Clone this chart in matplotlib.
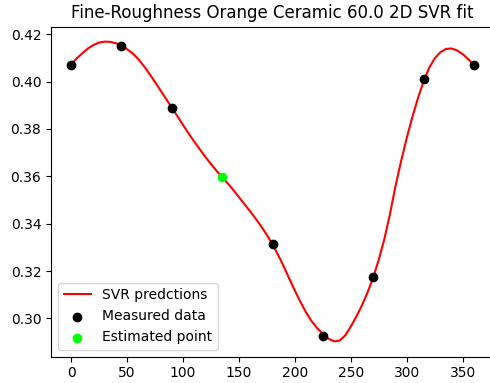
import matplotlib
matplotlib.use('Agg')
import matplotlib.pyplot as plt

# measured points (angle, value)
angles = [0, 45, 90, 180, 225, 270, 315, 360]
measured = [0.4072, 0.4151, 0.3890, 0.3313, 0.2927, 0.3175, 0.4010, 0.4070]

# estimated point
est_angle = [135]
est_value = [0.3597]

# SVR prediction curve, every 5 degrees
svr_x = list(range(0, 361, 5))
svr_y = [0.4072, 0.4098, 0.4120, 0.4140, 0.4155, 0.4165, 0.4169, 0.4168, 0.4162, 0.4152,
         0.4137, 0.4119, 0.4095, 0.4066, 0.4033, 0.3998, 0.3962, 0.3926, 0.3890, 0.3854,
         0.3817, 0.3781, 0.3747, 0.3714, 0.3682, 0.3652, 0.3623, 0.3597, 0.3570, 0.3542,
         0.3512, 0.3482, 0.3452, 0.3421, 0.3388, 0.3352, 0.3313, 0.3268, 0.3220, 0.3168,
         0.3117, 0.3069, 0.3025, 0.2988, 0.2958, 0.2935, 0.2914, 0.2903, 0.2906, 0.2928,
         0.2965, 0.3008, 0.3055, 0.3110, 0.3172, 0.3248, 0.3335, 0.3440, 0.3560, 0.3665,
         0.3762, 0.3850, 0.3930, 0.4000, 0.4058, 0.4098, 0.4124, 0.4138, 0.4140, 0.4132,
         0.4116, 0.4095, 0.4070]

fig = plt.figure(figsize=(4.9, 3.83), dpi=100)
ax = fig.add_axes([51 / 490, 1 - 356.7 / 383, 443 / 490, (356.7 - 26.7) / 383])

ax.plot(svr_x, svr_y, color='red', label='SVR predctions')
ax.scatter(angles, measured, color='black', label='Measured data', zorder=3)
ax.scatter(est_angle, est_value, color='lime', label='Estimated point', zorder=3)

ax.set_xlim(-18, 378)
ax.set_ylim(0.2838, 0.4232)
ax.set_title('Fine-Roughness Orange Ceramic 60.0 2D SVR fit')
ax.legend(loc='lower left')

fig.savefig('out.png', dpi=100)
